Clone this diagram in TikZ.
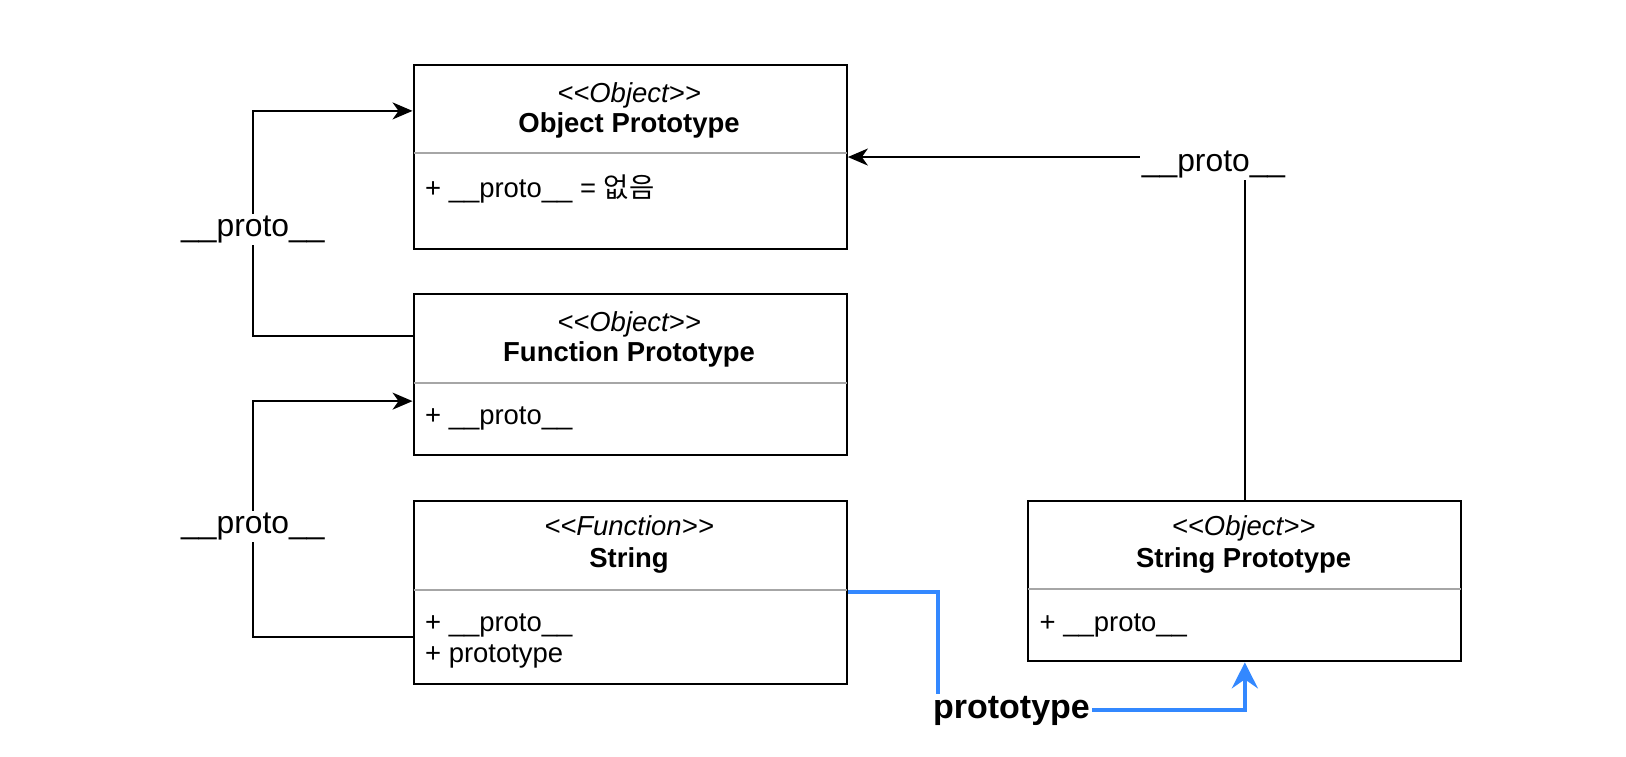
\documentclass[tikz,border=0pt]{standalone}
\usepackage{fontspec}
\setmainfont{Liberation Sans}
\newfontfamily\krfont{Noto Sans CJK KR}
\usetikzlibrary{arrows.meta,calc}
\definecolor{linkblue}{HTML}{3388FF}
\definecolor{divgray}{HTML}{A6A6A6}
\newcommand{\dlt}{<\kern0pt<}
\newcommand{\dgt}{>\kern0pt>}
\begin{document}
\begin{tikzpicture}[x=1pt,y=-1pt,scale=1.0363,every node/.append style={transform shape},
  umlbox/.style={draw=black,line width=2pt,anchor=north west,inner sep=0pt,minimum width=418pt},
  stereo/.style={font=\fontsize{26.5}{30}\selectfont\itshape,inner sep=0pt,anchor=base},
  cname/.style={font=\fontsize{26.5}{30}\selectfont\bfseries,inner sep=0pt,anchor=base},
  item/.style={font=\fontsize{26.5}{30}\selectfont,inner sep=0pt,anchor=base west},
  divider/.style={draw=divgray,line width=2pt},
  link/.style={draw=black,line width=2pt},
  arr/.style={link,-{Stealth[length=20pt,width=17pt,inset=6pt]}},
  bluearr/.style={draw=linkblue,line width=4pt,-{Stealth[length=26pt,width=26pt,inset=9pt]}},
  lbl/.style={fill=white,font=\fontsize{30.7}{34}\selectfont,inner sep=2pt,anchor=base},
  blbl/.style={fill=white,font=\fontsize{32.8}{36}\selectfont\bfseries,inner sep=2pt,anchor=base}]
\useasboundingbox (0,0) rectangle (1569,729.5);
\fill[white] (0,0) rectangle (1569,729.5);

% boxes
\node[umlbox,minimum height=177pt] (op) at (398,62) {};
\node[umlbox,minimum height=155pt] (fp) at (398,283) {};
\node[umlbox,minimum height=177pt] (str) at (398,482) {};
\node[umlbox,minimum height=155pt] (spr) at (991,482) {};

% dividers
\draw[divider] ($(op.north west)+(1,86)$) -- ($(op.north east)+(-1,86)$);
\draw[divider] ($(fp.north west)+(1,87)$) -- ($(fp.north east)+(-1,87)$);
\draw[divider] ($(str.north west)+(1,87)$) -- ($(str.north east)+(-1,87)$);
\draw[divider] ($(spr.north west)+(1,86)$) -- ($(spr.north east)+(-1,86)$);

% texts
\node[stereo] (op-s) at (607,99) {\dlt Object\dgt};
\node[cname] (op-n) at (607,128) {Object Prototype};
\node[item] (op-i) at (410,191) {+ \_\_proto\_\_ = {\krfont 없음}};

\node[stereo] (fp-s) at (607,320) {\dlt Object\dgt};
\node[cname] (fp-n) at (607,349) {Function Prototype};
\node[item] (fp-i) at (410,410) {+ \_\_proto\_\_};

\node[stereo] (str-s) at (607,517) {\dlt Function\dgt};
\node[cname] (str-n) at (607,548) {String};
\node[item] (str-i1) at (410,609) {+ \_\_proto\_\_};
\node[item] (str-i2) at (410,639) {+ prototype};

\node[stereo] (spr-s) at (1200,517) {\dlt Object\dgt};
\node[cname] (spr-n) at (1200,548) {String Prototype};
\node[item] (spr-i) at (1003,609) {+ \_\_proto\_\_};

% connectors
\draw[arr] ([yshift=37.5pt]fp.west) -- ++(-154,0) |- ([yshift=44.5pt]op.west);
\draw[arr] ([yshift=-43.5pt]str.west) -- ++(-154,0) |- ([yshift=-25.5pt]fp.west);
\draw[arr] (spr.north) |- (op.east);
\draw[bluearr] (str.east) -- ++(87,0) |- ($(spr.south)+(0,46)$) -- (spr.south);

% labels
\node[lbl] (l1) at (244,228) {\_\_proto\_\_};
\node[lbl] (l2) at (244,515) {\_\_proto\_\_};
\node[lbl] (l3) at (1171,165) {\_\_proto\_\_};
\node[blbl] (l4) at (976,693) {prototype};
\end{tikzpicture}
\end{document}
